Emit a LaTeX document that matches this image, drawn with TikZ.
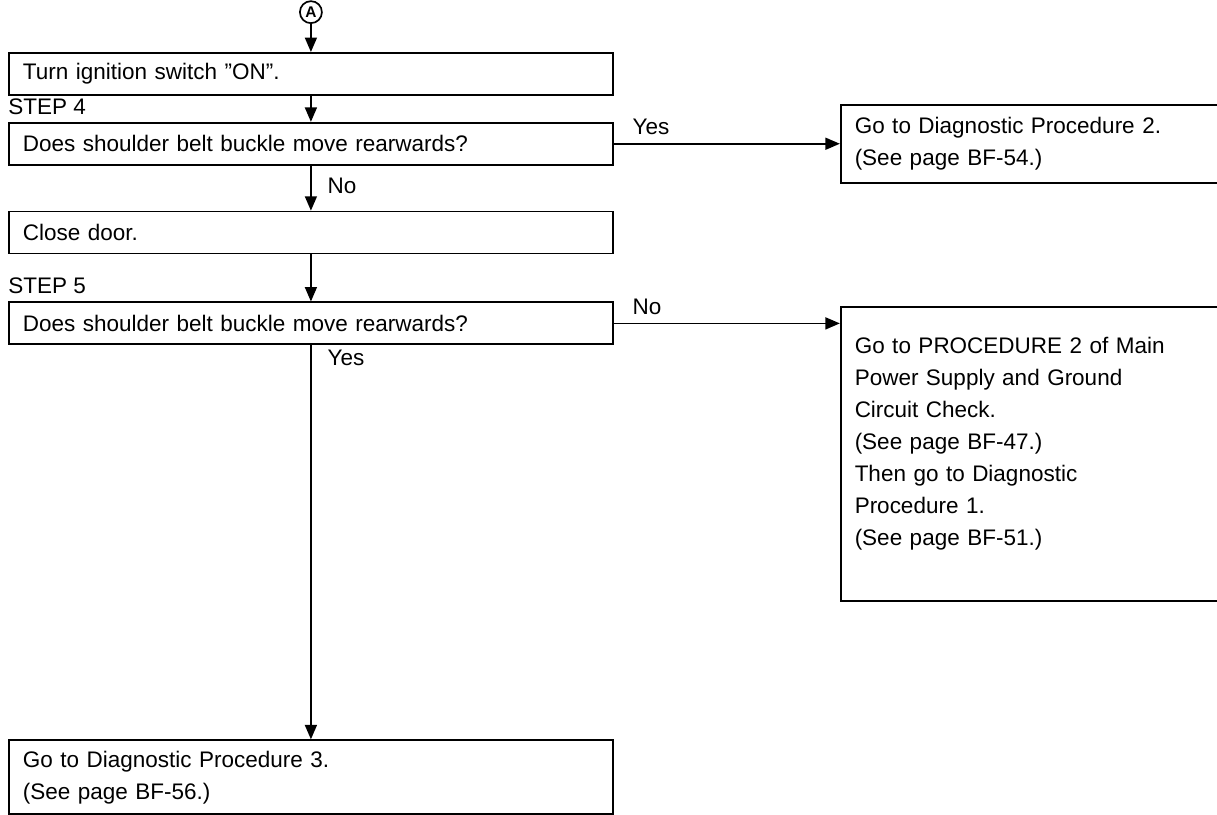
\documentclass[tikz,border=0pt]{standalone}
\usepackage{fontspec}
\setmainfont{Liberation Sans}
\usetikzlibrary{arrows.meta, positioning}

\begin{document}
\begin{tikzpicture}[
    font=\fontsize{16}{22.8}\selectfont,
    node distance=0.65cm and 5.65cm,
    box/.style={rectangle, draw, line width=1.3pt, text width=14.4cm, minimum height=1.05cm, inner xsep=0.35cm, inner ysep=0pt, align=left},
    sidebox/.style={box, text width=8.725cm},
    connector/.style={circle, draw, line width=1.2pt, minimum size=0.55cm, inner sep=0pt, font=\fontsize{11}{11}\selectfont\bfseries},
    steplabel/.style={anchor=south west, inner sep=0pt},
    arrowlabel/.style={anchor=base west, inner sep=0pt},
    arrow/.style={line width=1.1pt, -{Triangle[length=0.36cm, width=0.3cm]}}
]

\useasboundingbox (0,0) rectangle (30.425,-20.35);

\node[box, anchor=north west] (ignition) at (0.2,-1.3) {Turn ignition switch ''ON''.};
\node[connector, above=0.7cm of ignition] (conA) {A};

\node[box, below=of ignition] (step4) {Does shoulder belt buckle move rearwards?};
\node[steplabel] at ([yshift=0.18cm]step4.north west) {STEP 4};
\node[sidebox, minimum height=1.95cm, right=of step4] (proc2) {Go to Diagnostic Procedure 2.\\(See page BF-54.)};

\node[box, below=1.125cm of step4] (closedoor) {Close door.};

\node[box, below=1.175cm of closedoor] (step5) {Does shoulder belt buckle move rearwards?};
\node[steplabel] at ([yshift=0.18cm]step5.north west) {STEP 5};
\node[sidebox, anchor=north west, inner ysep=0.75cm] (mainpower) at ([xshift=5.65cm, yshift=-0.12cm]step5.north east)
    {\parbox[t][5.85cm][t]{8.725cm}{Go to PROCEDURE 2 of Main\\Power Supply and Ground\\Circuit Check.\\(See page BF-47.)\\Then go to Diagnostic\\Procedure 1.\\(See page BF-51.)}};

\node[box, minimum height=1.85cm, below=9.85cm of step5] (proc3) {Go to Diagnostic Procedure 3.\\(See page BF-56.)};

\draw[arrow] (conA) -- (ignition);
\draw[arrow] (ignition) -- (step4);

\draw[arrow] (step4) -- node[arrowlabel, pos=0, xshift=0.45cm, yshift=0.22cm] {Yes} (proc2);
\draw[arrow] (step4) -- node[arrowlabel, pos=0, xshift=0.4cm, yshift=-0.7cm] {No} (closedoor);

\draw[arrow] (closedoor) -- (step5);

\draw[arrow] (step5.east) -- node[arrowlabel, pos=0, xshift=0.45cm, yshift=0.22cm] {No} (step5.east -| mainpower.west);
\draw[arrow] (step5) -- node[arrowlabel, pos=0, xshift=0.4cm, yshift=-0.5cm] {Yes} (proc3);

\end{tikzpicture}
\end{document}
